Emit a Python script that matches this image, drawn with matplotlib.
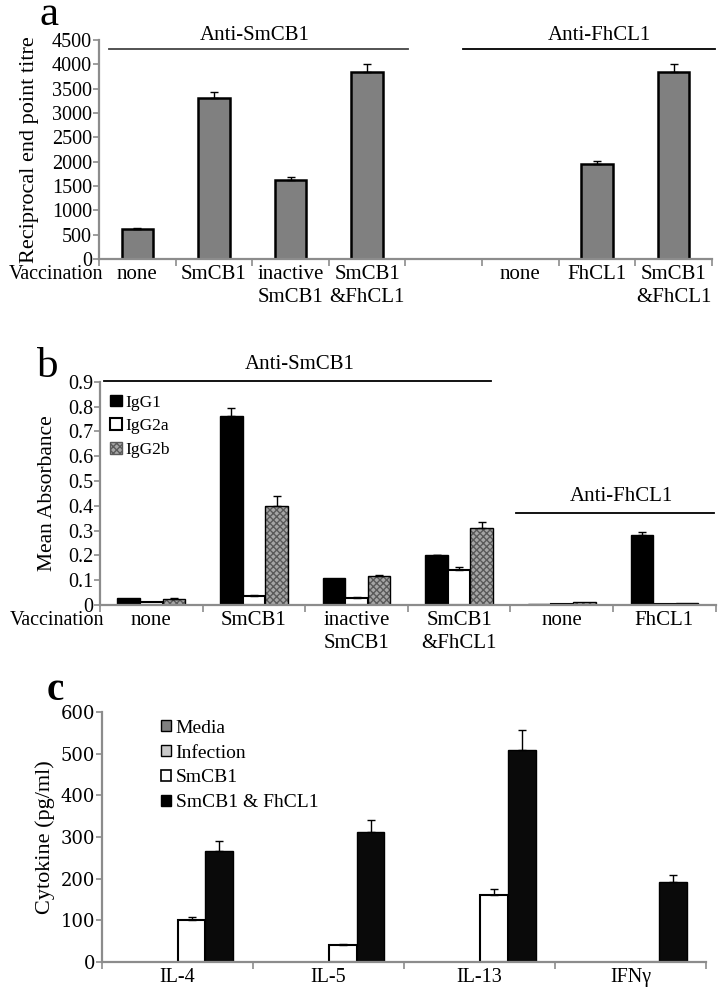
import numpy as np
import matplotlib
matplotlib.use('Agg')
import matplotlib.pyplot as plt
from matplotlib.patches import Patch

plt.rcParams['font.family'] = ['Liberation Serif', 'DejaVu Serif']

# panel a - reciprocal end point titre
a_labels = ['none', 'SmCB1', 'inactive\nSmCB1', 'SmCB1\n&FhCL1', '',
            'none', 'FhCL1', 'SmCB1\n&FhCL1']
a_values = [620, 3300, 1620, 3840, 0, 0, 1960, 3840]
a_errors = [20, 130, 60, 170, 0, 0, 60, 170]

# panel b - IgG subclasses
b_labels = ['none', 'SmCB1', 'inactive\nSmCB1', 'SmCB1\n&FhCL1', 'none', 'FhCL1']
b_series = ['IgG1', 'IgG2a', 'IgG2b']
b_igg1 = [0.030, 0.762, 0.110, 0.200, 0.005, 0.283]
b_igg2a = [0.010, 0.036, 0.028, 0.141, 0.005, 0.005]
b_igg2b = [0.025, 0.400, 0.115, 0.310, 0.012, 0.008]
b_igg1_err = [0.0, 0.034, 0.0, 0.003, 0.0, 0.012]
b_igg2a_err = [0.0, 0.003, 0.003, 0.012, 0.0, 0.0]
b_igg2b_err = [0.002, 0.038, 0.005, 0.025, 0.0, 0.0]

# panel c - cytokines
c_labels = ['IL-4', 'IL-5', 'IL-13', 'IFN\u03b3']
c_series = ['Media', 'Infection', 'SmCB1', 'SmCB1 & FhCL1']
c_media = [0, 0, 0, 0]
c_infection = [0, 0, 0, 0]
c_smcb1 = [101, 41, 160, 0]
c_combo = [266, 312, 508, 192]
c_smcb1_err = [8, 2, 15, 0]
c_combo_err = [24, 30, 48, 17]

spine_col = '#8c8c8c'
TICK_PAD = 4


def style_axes(ax, n, fs):
    for s in ['top', 'right']:
        ax.spines[s].set_visible(False)
    for s in ['left', 'bottom']:
        ax.spines[s].set_color(spine_col)
        ax.spines[s].set_linewidth(1.6)
    ax.set_xlim(-0.5, n - 0.5)
    ax.set_xticks(np.arange(n))
    ax.set_xticks(np.arange(n + 1) - 0.5, minor=True)
    ax.tick_params(axis='x', which='major', length=0, labelsize=fs, pad=TICK_PAD)
    ax.tick_params(axis='x', which='minor', length=5, width=1.2, color=spine_col)
    ax.tick_params(axis='y', length=4, width=1.2, color=spine_col, labelsize=14.5, pad=1)


def errs(ax, x, vals, err):
    vals = np.asarray(vals, float)
    err = np.asarray(err, float)
    m = err > 0
    ax.errorbar(x[m], vals[m], yerr=[np.zeros(m.sum()), err[m]], fmt='none',
                ecolor='black', elinewidth=1.0, capsize=3, capthick=1.0)


def vacc_label(ax, xfrac, fs):
    ax.annotate('Vaccination', xy=(xfrac, 0), xycoords='axes fraction',
                xytext=(0, -TICK_PAD), textcoords='offset points',
                ha='right', va='top', fontsize=fs)


fig = plt.figure(figsize=(7.21, 9.96), dpi=100)

# ---------------- panel a ----------------
axa = fig.add_axes([0.1373, 0.740, 0.850, 0.220])
xa = np.arange(len(a_labels))
axa.bar(xa, a_values, width=0.41, color='#808080', edgecolor='black', linewidth=1.8)
errs(axa, xa, a_values, a_errors)
style_axes(axa, len(a_labels), 15)
axa.set_xticklabels(a_labels, linespacing=1.3)
axa.set_ylim(0, 4500)
axa.set_yticks(np.arange(0, 4501, 500))
axa.set_ylabel('Reciprocal end point titre', fontsize=16, labelpad=9)
axa.plot([-0.37, 3.53], [4315, 4315], color='#444444', lw=1.3, clip_on=False)
axa.plot([4.25, 7.54], [4315, 4315], color='black', lw=1.3, clip_on=False)
axa.text(1.53, 4390, 'Anti-SmCB1', ha='center', va='bottom', fontsize=15)
axa.text(6.03, 4390, 'Anti-FhCL1', ha='center', va='bottom', fontsize=15)
vacc_label(axa, 0.007, 14.5)
fig.text(0.055, 0.975, 'a', fontsize=31, va='baseline')

# ---------------- panel b ----------------
axb = fig.add_axes([0.1387, 0.3926, 0.854, 0.224])
xb = np.arange(len(b_labels))
w = 0.22
axb.bar(xb - w, b_igg1, width=w, color='black', edgecolor='black', linewidth=1.0)
axb.bar(xb, b_igg2a, width=w, color='white', edgecolor='black', linewidth=1.5)
axb.bar(xb + w, b_igg2b, width=w, color='#a6a6a6', edgecolor='#5a5a5a',
        hatch='xxxxx', linewidth=0)
axb.bar(xb + w, b_igg2b, width=w, color='none', edgecolor='black', linewidth=1.0)
errs(axb, xb - w, b_igg1, b_igg1_err)
errs(axb, xb, b_igg2a, b_igg2a_err)
errs(axb, xb + w, b_igg2b, b_igg2b_err)
style_axes(axb, len(b_labels), 15)
axb.set_xticklabels(b_labels, linespacing=1.3)
axb.set_ylim(0, 0.9)
axb.set_yticks(np.arange(0, 0.91, 0.1))
axb.set_yticklabels(['0'] + ['%.1f' % v for v in np.arange(0.1, 0.91, 0.1)])
axb.set_ylabel('Mean Absorbance', fontsize=15.5, labelpad=8)
axb.plot([-0.46, 3.31], [0.902, 0.902], color='black', lw=1.3, clip_on=False)
axb.plot([3.55, 5.48], [0.371, 0.371], color='black', lw=1.3, clip_on=False)
axb.text(1.45, 0.93, 'Anti-SmCB1', ha='center', va='bottom', fontsize=15)
axb.text(4.58, 0.40, 'Anti-FhCL1', ha='center', va='bottom', fontsize=15)
vacc_label(axb, 0.007, 14.5)
hb = [Patch(facecolor='black', edgecolor='black'),
      Patch(facecolor='white', edgecolor='black', linewidth=1.5),
      Patch(facecolor='#a6a6a6', edgecolor='#5a5a5a', hatch='xxxxx')]
axb.legend(hb, b_series, loc='upper left', bbox_to_anchor=(0.0, 0.99),
           frameon=False, fontsize=12.5, handlelength=0.65, handleheight=0.65,
           handletextpad=0.2, labelspacing=0.45, borderaxespad=0.2)
fig.text(0.051, 0.6215, 'b', fontsize=31, va='baseline')

# ---------------- panel c ----------------
axc = fig.add_axes([0.1415, 0.0341, 0.838, 0.251])
xc = np.arange(len(c_labels))
wc = 0.185
axc.bar(xc - 1.5 * wc, c_media, width=wc, color='#808080', edgecolor='black', linewidth=0.8)
axc.bar(xc - 0.5 * wc, c_infection, width=wc, color='#c8c8c8', edgecolor='black', linewidth=0.8)
axc.bar(xc + 0.5 * wc, c_smcb1, width=wc, color='white', edgecolor='black', linewidth=1.5)
axc.bar(xc + 1.5 * wc, c_combo, width=wc, color='#0a0a0a', edgecolor='black', linewidth=1.0)
errs(axc, xc + 0.5 * wc, c_smcb1, c_smcb1_err)
errs(axc, xc + 1.5 * wc, c_combo, c_combo_err)
style_axes(axc, len(c_labels), 14.5)
axc.set_xticklabels(c_labels)
axc.set_ylim(0, 600)
axc.set_yticks(np.arange(0, 601, 100))
axc.tick_params(axis='y', labelsize=13)
for t in axc.get_yticklabels():
    t.set_fontfamily('DejaVu Serif')
axc.set_ylabel('Cytokine (pg/ml)', fontsize=16, labelpad=4)
hc = [Patch(facecolor='#808080', edgecolor='black'),
      Patch(facecolor='#c8c8c8', edgecolor='black'),
      Patch(facecolor='white', edgecolor='black', linewidth=1.2),
      Patch(facecolor='black', edgecolor='black')]
axc.legend(hc, c_series, loc='upper left', bbox_to_anchor=(0.085, 1.0),
           frameon=False, fontsize=14, handlelength=0.5, handleheight=0.5,
           handletextpad=0.25, labelspacing=0.4, borderaxespad=0.0)
fig.text(0.064, 0.297, 'c', fontsize=28, fontweight='bold', va='baseline')

fig.savefig('out.png', dpi=100)
